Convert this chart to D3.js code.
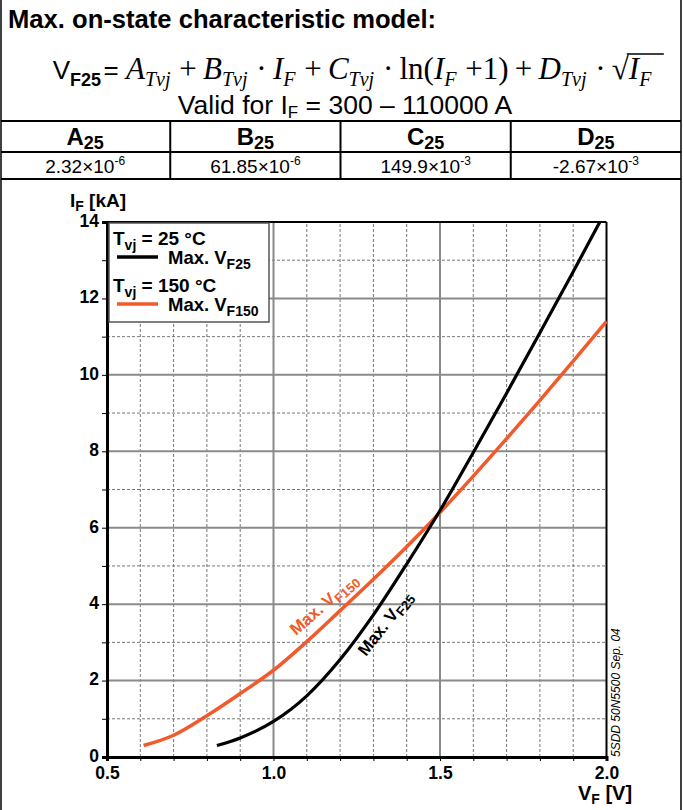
<!DOCTYPE html>
<html>
<head>
<meta charset="utf-8">
<script src="https://cdn.jsdelivr.net/npm/d3@7"></script>
<style>
  body { margin: 0; background: #fff; }
  svg { display: block; }
  text { font-family: "Liberation Sans", Arial, sans-serif; }
</style>
</head>
<body>
<svg id="chart" width="683" height="810"></svg>
<script>
// --- data ---
const vf25 = [0.83, 0.9, 1.0, 1.1, 1.2, 1.3, 1.4, 1.5, 1.6, 1.7, 1.8, 1.9, 1.98];
const if25 = [0.3, 0.5, 0.93, 1.6, 2.55, 3.72, 5.05, 6.45, 7.97, 9.52, 11.1, 12.7, 14.0];
const vf150 = [0.61, 0.7, 0.8, 0.9, 1.0, 1.1, 1.2, 1.3, 1.4, 1.5, 1.6, 1.7, 1.8, 1.9, 2.0];
const if150 = [0.3, 0.57, 1.08, 1.66, 2.27, 3.02, 3.83, 4.65, 5.5, 6.4, 7.35, 8.33, 9.33, 10.36, 11.4];
const xTicks = [0.5, 1.0, 1.5, 2.0];
const yTicks = [0, 2, 4, 6, 8, 10, 12, 14];
const coefNames = ["A", "B", "C", "D"];
const coefMant = ["2.32", "61.85", "149.9", "-2.67"];
const coefExp = ["-6", "-6", "-3", "-3"];

const svg = d3.select("#chart");
const sans = "'Liberation Sans', Arial, sans-serif";
const orange = "#f15a2b";

// outer frame
svg.append("line").attr("x1", 1).attr("x2", 1).attr("y1", 0).attr("y2", 810).attr("stroke", "#000").attr("stroke-width", 1.5);
svg.append("line").attr("x1", 681).attr("x2", 681).attr("y1", 0).attr("y2", 810).attr("stroke", "#000").attr("stroke-width", 1.5);

// title
svg.append("text").attr("x", 8).attr("y", 28)
  .style("font-size", "25.6px").style("font-weight", "bold")
  .text("Max. on-state characteristic model:");

// formula
const f = svg.append("text").attr("y", 79).style("font-size", "31px")
  .style("font-family", "'Liberation Serif', 'Times New Roman', serif");
function part(txt, opt = {}) {
  const t = f.append("tspan").text(txt);
  if (opt.italic) t.style("font-style", "italic");
  if (opt.sans) t.style("font-family", sans);
  if (opt.size) t.style("font-size", opt.size);
  if (opt.bold) t.style("font-weight", "bold");
  if (opt.dy) t.attr("dy", opt.dy);
  return t;
}
function sub(txt, opt = {}) {
  part(txt, Object.assign({ italic: true, size: "20px", dy: 7 }, opt));
}
function back() { f.append("tspan").attr("dy", -7).text("\u200A"); }
const thin = "\u2009";
part("V", { sans: true, size: "26px" });
sub("F25", { italic: false, sans: true, bold: true, size: "18px" }); back();
part("= ", { sans: true, size: "26px" });
part("A", { italic: true }); sub("Tvj"); back();
part(thin + "+" + thin);
part("B", { italic: true }); sub("Tvj"); back();
part(thin + "\u00B7" + thin);
part("I", { italic: true }); sub("F"); back();
part(thin + "+" + thin);
part("C", { italic: true }); sub("Tvj"); back();
part(thin + "\u00B7" + thin + "ln(");
part("I", { italic: true }); sub("F"); back();
part(thin + "+1)" + thin + "+" + thin);
part("D", { italic: true }); sub("Tvj"); back();
part(thin + "\u00B7" + thin);
part("\u221A");
const rootI = part("I", { italic: true });
sub("F");
const fw = f.node().getComputedTextLength();
f.attr("x", 352 - fw / 2);
const rb = rootI.node().getBBox();
svg.append("line").attr("x1", rb.x - 1).attr("x2", rb.x + rb.width + 23)
  .attr("y1", rb.y + 3).attr("y2", rb.y + 3).attr("stroke", "#000").attr("stroke-width", 1.3);

// validity
const v = svg.append("text").attr("x", 345).attr("y", 114).attr("text-anchor", "middle").style("font-size", "26.5px");
v.append("tspan").text("Valid for I");
v.append("tspan").attr("dy", 4).style("font-size", "17px").text("F");
v.append("tspan").attr("dy", -4).text(" = 300 \u2013 110000 A");

// table
[121, 152, 179].forEach(yy => svg.append("line").attr("x1", 1).attr("x2", 681).attr("y1", yy).attr("y2", yy)
  .attr("stroke", "#000").attr("stroke-width", 2));
const colX = d3.scaleBand().domain(coefNames).range([0, 681]);
coefNames.slice(1).forEach(c => svg.append("line").attr("x1", colX(c)).attr("x2", colX(c))
  .attr("y1", 121).attr("y2", 179).attr("stroke", "#000").attr("stroke-width", 2));
coefNames.forEach((c, i) => {
  const cx = colX(c) + colX.bandwidth() / 2;
  const h = svg.append("text").attr("x", cx).attr("y", 145).attr("text-anchor", "middle")
    .style("font-size", "24px").style("font-weight", "bold");
  h.append("tspan").text(c);
  h.append("tspan").attr("dy", 4).style("font-size", "18px").text("25");
  const val = svg.append("text").attr("x", cx).attr("y", 173).attr("text-anchor", "middle").style("font-size", "19px");
  val.append("tspan").text(coefMant[i] + "\u00D710");
  val.append("tspan").attr("dy", -8).style("font-size", "12px").text(coefExp[i]);
});

// chart
const x = d3.scaleLinear().domain([0.5, 2.0]).range([107, 606.5]);
const y = d3.scaleLinear().domain([0, 14]).range([757, 222]);
const g = svg.append("g");

// grid
const minorX = d3.range(6, 20).map(d => d / 10).filter(d => Math.abs(d * 2 - Math.round(d * 2)) > 1e-6);
const majorX = [1.0, 1.5];
const minorY = d3.range(1, 14, 2);
const majorY = [2, 4, 6, 8, 10, 12];
g.selectAll(".mx").data(minorX).join("line")
  .attr("x1", d => x(d)).attr("x2", d => x(d)).attr("y1", y(0)).attr("y2", y(14))
  .attr("stroke", "#777").attr("stroke-width", 1).attr("stroke-dasharray", "3,2");
g.selectAll(".my").data(minorY).join("line")
  .attr("x1", x(0.5)).attr("x2", x(2.0)).attr("y1", d => y(d)).attr("y2", d => y(d))
  .attr("stroke", "#777").attr("stroke-width", 1).attr("stroke-dasharray", "3,2");
g.selectAll(".Mx").data(majorX).join("line")
  .attr("x1", d => x(d)).attr("x2", d => x(d)).attr("y1", y(0)).attr("y2", y(14))
  .attr("stroke", "#8a8a8a").attr("stroke-width", 2);
g.selectAll(".My").data(majorY).join("line")
  .attr("x1", x(0.5)).attr("x2", x(2.0)).attr("y1", d => y(d)).attr("y2", d => y(d))
  .attr("stroke", "#8a8a8a").attr("stroke-width", 2);

// top and right borders
g.append("line").attr("x1", x(0.5)).attr("x2", x(2.0)).attr("y1", y(14)).attr("y2", y(14)).attr("stroke", "#000").attr("stroke-width", 2);
g.append("line").attr("x1", x(2.0)).attr("x2", x(2.0)).attr("y1", y(14)).attr("y2", y(0)).attr("stroke", "#000").attr("stroke-width", 2);

// axes
const yAxis = g.append("g").attr("transform", `translate(${x(0.5)},0)`)
  .call(d3.axisLeft(y).tickValues(d3.range(0, 15)).tickSize(5).tickFormat(d => yTicks.includes(d) ? d : ""));
const xAxis = g.append("g").attr("transform", `translate(0,${y(0)})`)
  .call(d3.axisBottom(x).tickValues(d3.range(5, 21).map(d => d / 10)).tickSize(4)
    .tickFormat(d => xTicks.some(t => Math.abs(t - d) < 1e-6) ? d3.format(".1f")(d) : ""));
[yAxis, xAxis].forEach(a => {
  a.select(".domain").attr("stroke", "#000").attr("stroke-width", 3);
  a.selectAll(".tick line").attr("stroke", "#000").attr("stroke-width", 1);
  a.selectAll(".tick text").style("font-size", "17.5px").style("font-weight", "bold")
    .style("font-family", sans).attr("fill", "#000");
});
yAxis.selectAll(".tick text").attr("x", -8).attr("dy", "0.25em");
xAxis.selectAll(".tick text").attr("y", 10);

// axis titles
const yl = svg.append("text").attr("x", 70).attr("y", 207).style("font-size", "19px").style("font-weight", "bold");
yl.append("tspan").text("I");
yl.append("tspan").attr("dy", 4).style("font-size", "14px").text("F");
yl.append("tspan").attr("dy", -4).text(" [kA]");
const xl = svg.append("text").attr("x", 578).attr("y", 800).style("font-size", "20px").style("font-weight", "bold");
xl.append("tspan").text("V");
xl.append("tspan").attr("dy", 4).style("font-size", "14px").text("F");
xl.append("tspan").attr("dy", -4).text(" [V]");

// curves
const line = d3.line().x(d => x(d[0])).y(d => y(d[1])).curve(d3.curveMonotoneX);
g.append("path").datum(d3.zip(vf150, if150)).attr("d", line)
  .attr("fill", "none").attr("stroke", orange).attr("stroke-width", 3.5);
g.append("path").datum(d3.zip(vf25, if25)).attr("d", line)
  .attr("fill", "none").attr("stroke", "#000").attr("stroke-width", 3.2);

// curve labels
const lab150 = g.append("text").attr("transform", "translate(296,636) rotate(-41)")
  .style("font-size", "17px").style("font-weight", "bold").attr("fill", orange);
lab150.append("tspan").text("Max. V");
lab150.append("tspan").attr("dy", 4).style("font-size", "13px").text("F150");
const lab25 = g.append("text").attr("transform", "translate(366,657) rotate(-52)")
  .style("font-size", "17px").style("font-weight", "bold").attr("fill", "#000");
lab25.append("tspan").text("Max. V");
lab25.append("tspan").attr("dy", 4).style("font-size", "13px").text("F25");

// legend
const lg = g.append("g");
lg.append("rect").attr("x", 109).attr("y", 223).attr("width", 160).attr("height", 99)
  .attr("fill", "#fff").attr("stroke", "#555").attr("stroke-width", 1.5);
function legendItem(y0, temp, color, subTxt) {
  const t = lg.append("text").attr("x", 113).attr("y", y0).style("font-size", "19px").style("font-weight", "bold");
  t.append("tspan").text("T");
  t.append("tspan").attr("dy", 5).style("font-size", "14px").text("vj");
  t.append("tspan").attr("dy", -5).text(" = " + temp + " \u00B0C");
  lg.append("line").attr("x1", 117).attr("x2", 158).attr("y1", y0 + 12).attr("y2", y0 + 12)
    .attr("stroke", color).attr("stroke-width", 3.5);
  const m = lg.append("text").attr("x", 168).attr("y", y0 + 19).style("font-size", "18.5px").style("font-weight", "bold");
  m.append("tspan").text("Max. V");
  m.append("tspan").attr("dy", 5).style("font-size", "14px").text(subTxt);
}
legendItem(245, "25", "#000", "F25");
legendItem(292, "150", orange, "F150");

// document code
svg.append("text").attr("transform", "translate(620,757) rotate(-90)")
  .style("font-size", "12px").style("font-style", "italic").text("5SDD 50N5500 Sep. 04");
</script>
</body>
</html>
